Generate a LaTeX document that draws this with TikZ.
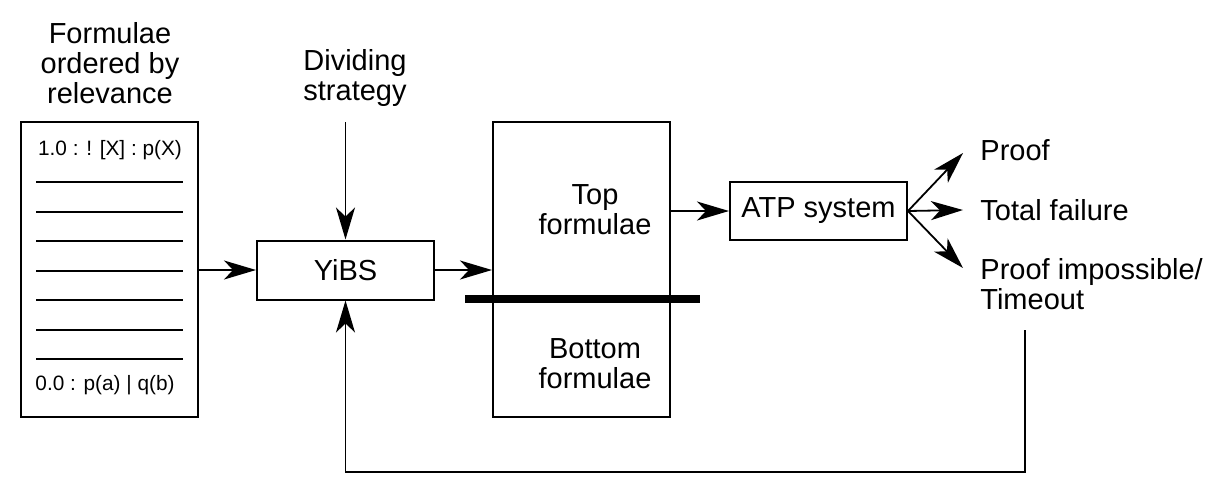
\documentclass[tikz,border=0pt]{standalone}
\usepackage{fontspec}
\setmainfont{Liberation Sans}
\usetikzlibrary{arrows.meta}
\begin{document}
\begin{tikzpicture}[x=0.5pt,y=-0.5pt,
  box/.style={draw,line width=1pt,inner sep=0pt},
  lbl/.style={inner sep=0pt,font=\fontsize{14.5}{15}\selectfont,align=center},
  small/.style={inner sep=0pt,font=\fontsize{10.4}{12}\selectfont},
  arr/.style={line width=0.9pt,-{Stealth[length=16pt,width=9.5pt,inset=4.5pt]}},
  ln/.style={line width=0.9pt}]
\useasboundingbox (0,0) rectangle (1226,499);
% list of formulae
\node[box,minimum width=88.5pt,minimum height=147.5pt] (list) at (109.5,269.5) {};
\node[small] (top) at (110,150) {1.0 : ! [X] : p(X)};
\node[small] (bot) at (105,385) {0.0 : p(a) | q(b)};
\foreach \y in {182,212,241,271,300,330,359}
  \draw[ln] (36,\y) -- (183,\y);
\node[lbl] (ford) at (110,63) {Formulae\\ordered by\\relevance};
% YiBS
\node[box,minimum width=88.5pt,minimum height=29.5pt,lbl,draw] (yibs) at (345.5,270) {YiBS};
\node[lbl] (div) at (355,78) {Dividing\\strategy};
% big box
\node[box,minimum width=88.5pt,minimum height=147.5pt] (big) at (581.5,269.5) {};
\node[lbl] (topf) at (595,210) {Top\\formulae};
\node[lbl] (botf) at (595,364) {Bottom\\formulae};
\draw[line width=4pt] (465,299) -- (700,299);
% ATP
\node[box,minimum width=88.5pt,minimum height=29pt,lbl,draw] (atp) at (818.5,211) {ATP system};
% outcomes
\node[lbl,anchor=west] (proof) at (980,150) {Proof};
\node[lbl,anchor=west] (fail) at (980,210) {Total failure};
\node[lbl,anchor=west,align=left] (imp) at (980,284) {Proof impossible/\\Timeout};
\coordinate (tp) at (963,153);
\coordinate (tf) at (963,210);
\coordinate (ti) at (963,268);
\coordinate (fb) at (1025,330);
\coordinate (c1) at (1025,472);
\coordinate (c2) at (345.5,472);
% connectors
\draw[arr] (list.east|-yibs) -- (yibs.west);
\draw[arr] (yibs.east) -- (big.west|-yibs);
\draw[arr] (345.5,122) -- (yibs.north);
\draw[arr] (big.east|-atp) -- (atp.west);
\draw[arr] (atp.east) -- (tp);
\draw[arr] (atp.east) -- (tf);
\draw[arr] (atp.east) -- (ti);
\draw[arr] (fb) -- (c1) -- (c2) -- (yibs.south);
\end{tikzpicture}
\end{document}
